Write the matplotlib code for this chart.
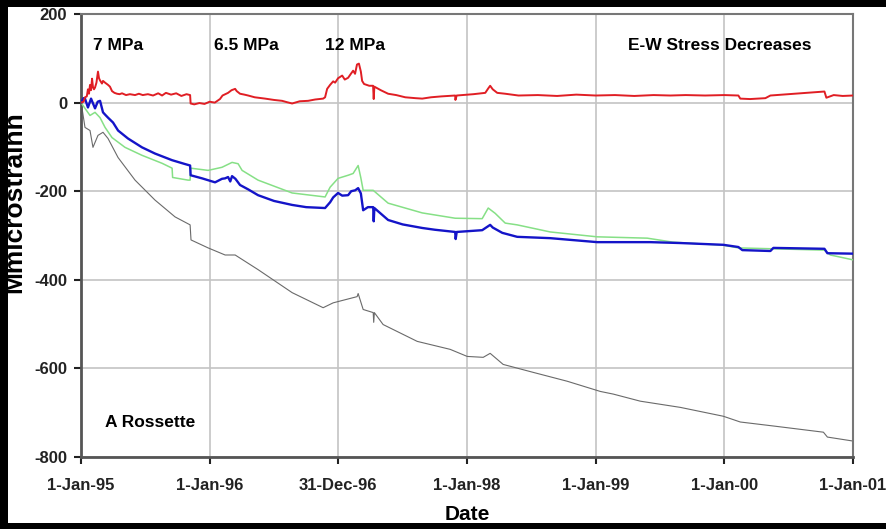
import matplotlib
matplotlib.use("Agg")
import matplotlib.pyplot as plt
from matplotlib.patches import Rectangle

plt.rcParams['font.family'] = ['Liberation Sans', 'DejaVu Sans']
plt.rcParams['font.weight'] = 'bold'
plt.rcParams['axes.unicode_minus'] = False

# time axis in years since 1-Jan-95
tick_pos = [0, 1, 2, 3, 4, 5, 6]
tick_labels = ["1-Jan-95", "1-Jan-96", "31-Dec-96", "1-Jan-98",
               "1-Jan-99", "1-Jan-00", "1-Jan-01"]

red_t = [0.00, 0.02, 0.031, 0.045, 0.054, 0.062, 0.070, 0.078, 0.086, 0.093,
         0.101, 0.109, 0.120, 0.132, 0.140, 0.148, 0.163, 0.171, 0.187, 0.210,
         0.225, 0.241, 0.260, 0.280, 0.300, 0.319, 0.35, 0.38, 0.42, 0.45,
         0.48, 0.52, 0.56, 0.60, 0.63, 0.66, 0.70, 0.74, 0.78, 0.82,
         0.848, 0.852, 0.88, 0.92, 0.96, 1.00, 1.04, 1.08, 1.10, 1.143,
         1.17, 1.198, 1.21, 1.236, 1.27, 1.299, 1.35, 1.431, 1.50, 1.563,
         1.60, 1.641, 1.70, 1.765, 1.82, 1.882, 1.897, 1.913, 1.936, 1.96,
         1.975, 1.998, 2.030, 2.05, 2.076, 2.10, 2.115, 2.13, 2.145, 2.16,
         2.175, 2.185, 2.20, 2.24, 2.27, 2.275, 2.28, 2.33, 2.387, 2.45,
         2.52, 2.60, 2.652, 2.72, 2.80, 2.908, 2.91, 2.92, 3.05, 3.142,
         3.165, 3.180, 3.20, 3.235, 3.297, 3.40, 3.55, 3.70, 3.85, 4.00,
         4.15, 4.30, 4.45, 4.58, 4.70, 4.85, 5.00, 5.109, 5.124, 5.20,
         5.319, 5.358, 5.778, 5.793, 5.85, 5.92, 6.00]
red_v = [0, 2, 12, 14, 30, 20, 40, 28, 54, 35,
         30, 34, 45, 70, 55, 50, 43, 49, 45, 40,
         36, 26, 22, 20, 19, 21, 17, 19, 17, 20,
         17, 19, 16, 21, 16, 22, 18, 21, 15, 19,
         17, -2, -4, -1, -3, 2, 0, 8, 16, 22,
         28, 31, 26, 20, 18, 16, 12, 9, 6, 4,
         1, -2, 3, 4, 7, 9, 12, 31, 40, 48,
         45, 55, 61, 52, 56, 66, 72, 65, 86, 88,
         70, 49, 42, 38, 38, 8, 36, 28, 20, 17,
         12, 10, 9, 12, 14, 16, 6, 16, 19, 22,
         32, 38, 30, 22, 20, 16, 17, 15, 18, 16,
         17, 15, 17, 16, 17, 16, 17, 16, 9, 8,
         10, 16, 25, 11, 17, 15, 16]

blue_t = [0.00, 0.02, 0.031, 0.054, 0.078, 0.109, 0.13, 0.148, 0.171, 0.19,
          0.210, 0.249, 0.288, 0.365, 0.474, 0.575, 0.708, 0.80, 0.848, 0.852,
          0.941, 1.042, 1.096, 1.120, 1.143, 1.160, 1.174, 1.20, 1.236, 1.30,
          1.376, 1.50, 1.641, 1.75, 1.897, 1.936, 1.96, 1.998, 2.03, 2.076,
          2.10, 2.131, 2.154, 2.175, 2.193, 2.23, 2.271, 2.275, 2.28, 2.387,
          2.50, 2.652, 2.75, 2.908, 2.912, 2.92, 3.118, 3.180, 3.20, 3.274,
          3.390, 3.647, 4.012, 4.425, 4.658, 4.992, 5.109, 5.140, 5.358, 5.381,
          5.778, 5.801, 6.00]
blue_v = [0, 10, 9, -11, 9, -13, 2, 4, -22, -28,
          -34, -45, -63, -81, -101, -115, -130, -138, -142, -164,
          -171, -180, -172, -171, -168, -178, -166, -172, -186, -196,
          -209, -222, -231, -236, -238, -225, -214, -204, -210, -209,
          -200, -198, -193, -205, -243, -236, -236, -268, -238, -265,
          -275, -283, -287, -292, -308, -292, -288, -276, -282, -294,
          -303, -306, -315, -315, -317, -321, -326, -333, -335, -328,
          -330, -340, -341]

green_t = [0.00, 0.031, 0.070, 0.109, 0.148, 0.187, 0.241, 0.342, 0.474, 0.630,
           0.708, 0.712, 0.832, 0.848, 0.852, 0.988, 1.096, 1.174, 1.221, 1.252,
           1.376, 1.641, 1.897, 1.936, 1.998, 2.076, 2.115, 2.154, 2.175, 2.193,
           2.271, 2.387, 2.652, 2.908, 3.118, 3.165, 3.219, 3.297, 3.390, 3.647,
           4.012, 4.401, 4.60, 4.992, 5.109, 5.778, 5.824, 6.00]
green_v = [0, -13, -29, -22, -34, -56, -79, -101, -119, -137,
           -148, -169, -175, -175, -148, -153, -146, -135, -138, -153,
           -175, -204, -213, -191, -171, -164, -160, -142, -170, -198,
           -198, -227, -249, -261, -262, -238, -250, -272, -276, -292,
           -303, -306, -315, -322, -328, -333, -344, -355]

gray_t = [0.00, 0.008, 0.031, 0.070, 0.093, 0.132, 0.171, 0.210, 0.288, 0.420,
          0.575, 0.731, 0.848, 0.855, 0.988, 1.120, 1.198, 1.376, 1.641, 1.882,
          1.960, 2.146, 2.154, 2.193, 2.271, 2.275, 2.28, 2.348, 2.613, 2.869,
          3.002, 3.126, 3.180, 3.281, 3.515, 3.779, 4.036, 4.137, 4.347, 4.658,
          4.992, 5.124, 5.381, 5.770, 5.801, 6.00]
gray_v = [0, -13, -56, -63, -101, -74, -67, -81, -124, -175,
          -220, -258, -276, -310, -328, -344, -344, -377, -429, -463,
          -452, -438, -431, -467, -474, -496, -474, -501, -539, -557,
          -573, -575, -566, -591, -609, -629, -652, -658, -674, -688,
          -708, -721, -730, -744, -755, -764]

fig = plt.figure(figsize=(8.87, 5.29), dpi=100, facecolor="black")
# white page inside the black frame
fig.patches.append(Rectangle((8 / 887, 6 / 529), 879 / 887, 516 / 529,
                             transform=fig.transFigure, facecolor="white",
                             edgecolor="none", zorder=-5))

ax = fig.add_axes([81 / 887, 72 / 529, 772 / 887, 443 / 529])
ax.set_facecolor("white")

ax.plot(gray_t, gray_v, color="#6a6a6a", lw=0.8, zorder=2)
ax.plot(green_t, green_v, color="#86e086", lw=1.1, zorder=3)
ax.plot(blue_t, blue_v, color="#1414c8", lw=1.7, zorder=4)
ax.plot(red_t, red_v, color="#e01e24", lw=1.4, zorder=5)

ax.set_xlim(0, 6)
ax.set_ylim(-800, 200)
ax.set_yticks(range(-800, 201, 200))
ax.set_xticks(tick_pos)
ax.set_xticklabels(tick_labels)
ax.tick_params(axis="both", labelsize=12, colors="#222222", width=1.5,
               length=5, direction="out")
ax.tick_params(axis="y", length=5, pad=5)
ax.tick_params(axis="x", pad=10)
ax.grid(True, color="#c4c4c4", lw=1.2)
ax.set_axisbelow(True)

for side in ["left", "bottom"]:
    ax.spines[side].set_color("#555555")
    ax.spines[side].set_linewidth(2)
for side in ["top", "right"]:
    ax.spines[side].set_color("#777777")
    ax.spines[side].set_linewidth(1.5)

ax.set_ylabel("Mmicrostrainn", fontsize=19, fontweight="bold")
ax.yaxis.set_label_coords(-0.071, 0.575)
ax.set_xlabel("Date", fontsize=15, fontweight="bold")
ax.xaxis.set_label_coords(0.5, -0.108)

ax.text(0.09, 128, "7 MPa", fontsize=12.5, fontweight="bold", va="center")
ax.text(1.03, 128, "6.5 MPa", fontsize=12.5, fontweight="bold", va="center")
ax.text(1.90, 128, "12 MPa", fontsize=12.5, fontweight="bold", va="center")
ax.text(4.25, 128, "E-W Stress Decreases", fontsize=12.5, fontweight="bold",
        va="center")
ax.text(0.19, -723, "A Rossette", fontsize=12.5, fontweight="bold", va="center")

fig.savefig("out.png", dpi=100, facecolor="black")
